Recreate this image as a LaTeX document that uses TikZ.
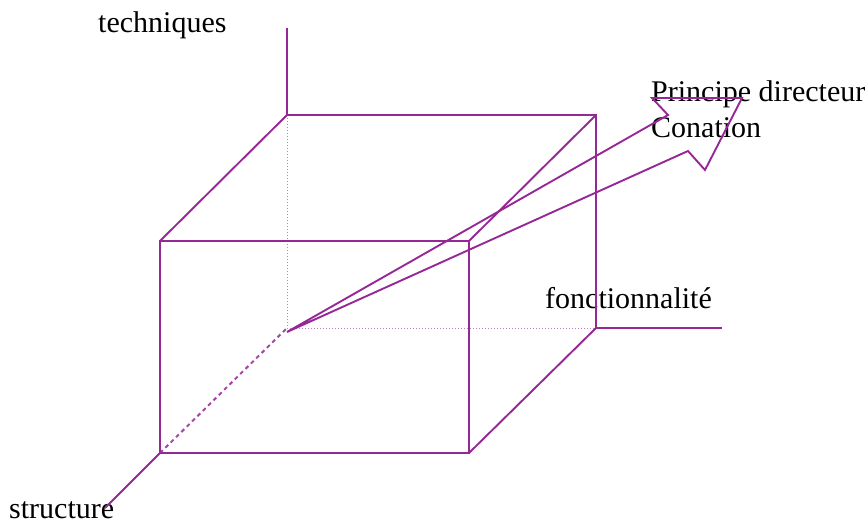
\documentclass[tikz,border=0pt]{standalone}
\usepackage{fontspec}
\setmainfont{Liberation Serif}
\definecolor{cubepurple}{RGB}{150,40,150}
\begin{document}
\begin{tikzpicture}[x=1pt,y=-1pt,
  edge/.style={draw=cubepurple,line width=1.9pt,line join=miter},
  hidden/.style={draw=cubepurple!60,line width=1pt,dotted},
  hiddendash/.style={draw=cubepurple!85,line width=2pt,dash pattern=on 4pt off 3.5pt},
  lbl/.style={anchor=base west,inner sep=0pt,font=\fontsize{30}{35}\selectfont}]
\useasboundingbox (0,0) rectangle (868,524);
% cube corners
\coordinate (btl) at (287,115);
\coordinate (btr) at (596,115);
\coordinate (bbr) at (596,328);
\coordinate (bbl) at (287,328);
\coordinate (ftl) at (160,241);
\coordinate (ftr) at (469,241);
\coordinate (fbr) at (469,453);
\coordinate (fbl) at (160,453);
% axis ends
\coordinate (techend) at (287,28);
\coordinate (foncend) at (722,328);
\coordinate (structend) at (105,508);
% zigzag
\coordinate (o) at (287,332);
\coordinate (z1) at (668,115);
\coordinate (z2) at (652,98);
\coordinate (z3) at (742,98);
\coordinate (z4) at (705,170);
\coordinate (z5) at (688,151);
% labels
\node[lbl] (tech) at (98,33) {techniques};
\node[lbl] (fonc) at (545,308) {fonctionnalité};
\node[lbl] (struct) at (9,518) {structure};
\node[lbl] (princ) at (651,102) {Principe directeur};
\node[lbl] (conat) at (651,138) {Conation};
% hidden edges
\draw[hidden] (btl) -- (bbl) -- (bbr);
\draw[hiddendash] (fbl) -- (bbl);
% back face visible
\draw[edge] (bbr) -- (btr) -- (btl);
% front face
\draw[edge] (ftl) rectangle (fbr);
% connecting edges
\draw[edge] (ftl) -- (btl);
\draw[edge] (ftr) -- (btr);
\draw[edge] (fbr) -- (bbr);
% axes
\draw[edge] (btl) -- (techend);
\draw[edge] (bbr) -- (foncend);
\draw[edge] (fbl) -- (structend);
% zigzag arrow
\draw[edge] (o) -- (z1) -- (z2) -- (z3) -- (z4) -- (z5) -- cycle;
\end{tikzpicture}
\end{document}
